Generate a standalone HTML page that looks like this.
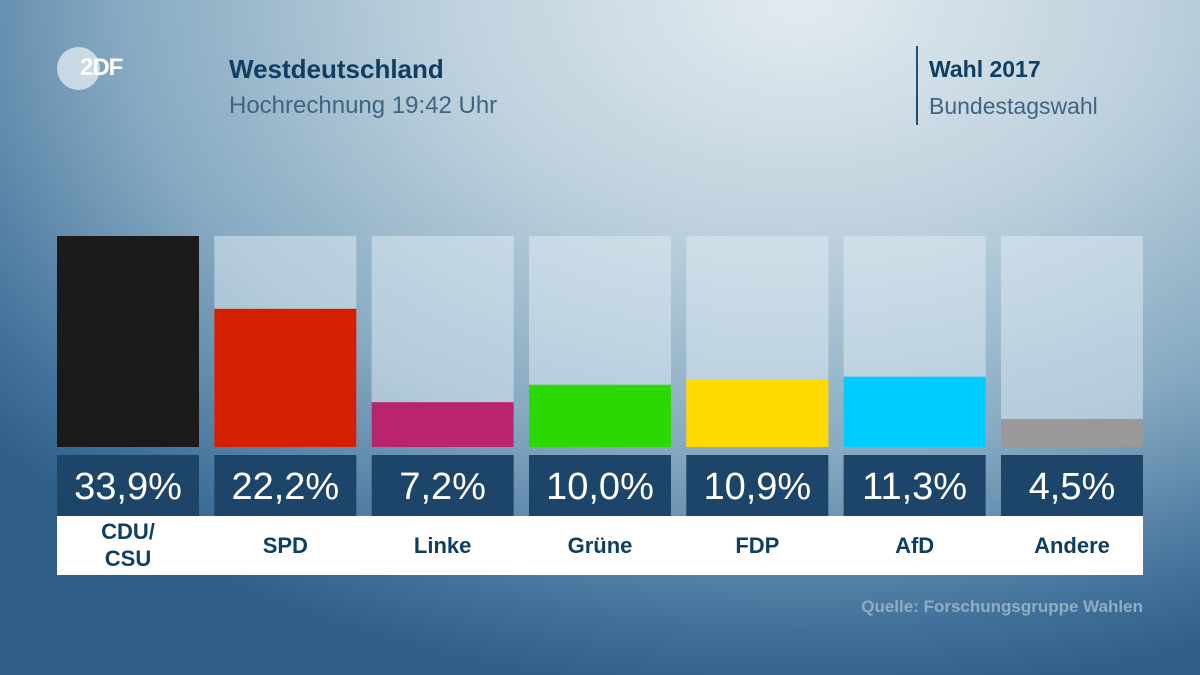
<!DOCTYPE html>
<html><head><meta charset="utf-8"><style>
body{margin:0;width:1200px;height:675px;overflow:hidden;font-family:"Liberation Sans",sans-serif}
#bg{position:absolute;left:0;top:0;width:1200px;height:675px;background:radial-gradient(ellipse 1050px 700px at 800px 0px,#e3ebf0 0%,#bcd0dc 35%,#86a9c1 65%,#41709a 90%,#2f5f86 100%)}
.t{position:absolute}
</style></head><body>
<div id="bg"></div>
<div class="t" style="left:57px;top:47px;width:43px;height:43px;border-radius:50%;background:rgba(235,242,246,0.7)"></div>
<div class="t" style="left:80px;top:54px;color:#fff;font-weight:bold;font-size:24px;letter-spacing:-1px">2DF</div>
<div class="t" style="left:229px;top:54px;color:#0f3e62;font-weight:bold;font-size:26px">Westdeutschland</div>
<div class="t" style="left:229px;top:92px;color:#3f6582;font-size:24px">Hochrechnung 19:42 Uhr</div>
<div class="t" style="left:916px;top:46px;width:2px;height:79px;background:#1e4f75"></div>
<div class="t" style="left:929px;top:56px;color:#0f3e62;font-weight:bold;font-size:23px">Wahl 2017</div>
<div class="t" style="left:929px;top:93px;color:#3f6582;font-size:23px">Bundestagswahl</div>
<div class="t" style="right:57px;top:597px;color:#8faec4;font-weight:bold;font-size:17px">Quelle: Forschungsgruppe Wahlen</div>
<svg class="t" style="left:0;top:0" width="1200" height="675" id="chart"></svg>
<script>
const parties=["CDU/\nCSU","SPD","Linke","Grüne","FDP","AfD","Andere"];
const values=[33.9,22.2,7.2,10.0,10.9,11.3,4.5];
const colors=["#1b1b1b","#d42000","#b8246e","#2bd900","#ffd900","#00ccff","#999999"];
const svg=document.getElementById('chart');const NS="http://www.w3.org/2000/svg";
const x0=57,step=157.33,bw=142,plotTop=236,plotBottom=447,maxV=33.9;
const yScale=v=>plotBottom-(v/maxV)*(plotBottom-plotTop);
function mk(t,a){const e=document.createElementNS(NS,t);for(const k in a)e.setAttribute(k,a[k]);svg.appendChild(e);return e;}
parties.forEach((p,i)=>{
 const x=x0+i*step;
 const bgR=mk('rect',{x:x,y:plotTop,width:bw,height:plotBottom-plotTop,fill:'rgba(225,238,245,0.5)'});
 
 
 const r=mk('rect',{x:x,y:yScale(values[i]),width:bw,height:plotBottom-yScale(values[i]),fill:colors[i]});
 
 
 const vb=mk('rect',{x:x,y:455,width:bw,height:61,fill:'#1d4569'});
 
 
 const vt=mk('text',{x:x+bw/2,y:499,'text-anchor':'middle',fill:'#fff','font-size':38,'font-family':'Liberation Sans, sans-serif'});
 vt.textContent=values[i].toFixed(1).replace('.',',')+'%';
 
 
});
const lb=mk('rect',{x:57,y:516,width:1086,height:59,fill:'#fff'});


parties.forEach((p,i)=>{
 const x=x0+i*step+bw/2;const lines=p.split('\n');
 lines.forEach((l,j)=>{
  const t=mk('text',{x:x,y:(lines.length>1?539:553)+j*27,'text-anchor':'middle',fill:'#0f3e62','font-size':22,'font-weight':'bold','font-family':'Liberation Sans, sans-serif'});
  t.textContent=l;
  
  
 });
});
</script>
</body></html>
